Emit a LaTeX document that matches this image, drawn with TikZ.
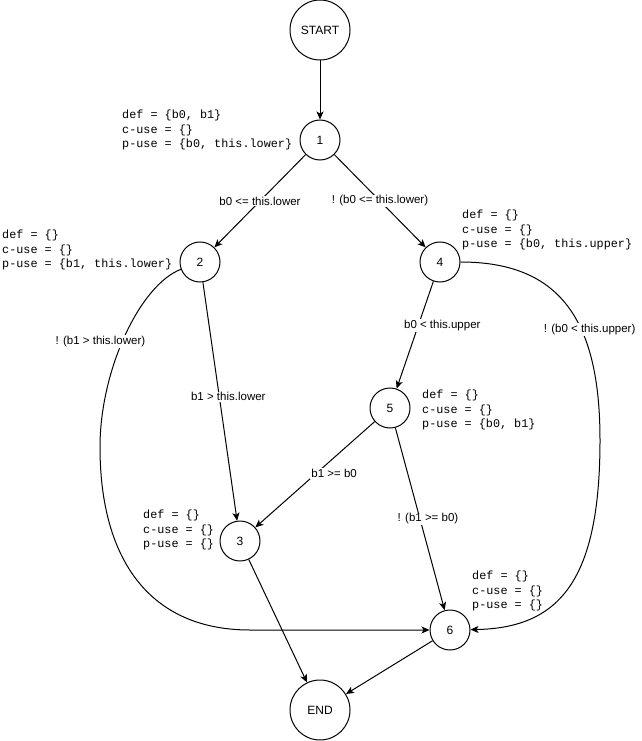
\documentclass[tikz,border=0pt]{standalone}
\usepackage{fontspec}
\setmainfont{Liberation Sans}
\newfontfamily\codefont{Liberation Mono}
\usetikzlibrary{arrows.meta}

\begin{document}
\begin{tikzpicture}[x=1pt,y=-1pt,
  state/.style={draw,circle,line width=1pt,minimum size=40pt,inner sep=0pt,font=\fontsize{12}{14}\selectfont},
  term/.style={state,minimum size=60pt},
  flow/.style={line width=1pt,-{Stealth[length=8pt,width=7pt,inset=2pt]}},
  cond/.style={fill=white,inner sep=1pt,font=\fontsize{11.5}{13}\selectfont},
  anno/.style={anchor=west,align=left,inner sep=0pt,font=\codefont\fontsize{11.8}{14.5}\selectfont}]
\useasboundingbox (0,0) rectangle (641,741);
% states
\node[term] (start) at (320,30) {START};
\node[state] (n1) at (320,140) {1};
\node[state] (n2) at (200,262) {2};
\node[state] (n4) at (440,262) {4};
\node[state] (n5) at (390,408) {5};
\node[state] (n3) at (240,541) {3};
\node[state] (n6) at (450,630) {6};
\node[term] (end) at (320,710) {END};
% def / use sets
\node[anno] (d1) at (122,130) {def = \{b0, b1\}\\c-use = \{\}\\p-use = \{b0, this.lower\}};
\node[anno] (d2) at (2,250) {def = \{\}\\c-use = \{\}\\p-use = \{b1, this.lower\}};
\node[anno] (d4) at (462,230) {def = \{\}\\c-use = \{\}\\p-use = \{b0, this.upper\}};
\node[anno] (d5) at (422,410) {def = \{\}\\c-use = \{\}\\p-use = \{b0, b1\}};
\node[anno] (d3) at (143,530) {def = \{\}\\c-use = \{\}\\p-use = \{\}};
\node[anno] (d6) at (472,591) {def = \{\}\\c-use = \{\}\\p-use = \{\}};
% edges
\draw[flow] (start) -- (n1);
\draw[flow] (n1) -- node[cond] {b0 <= this.lower} (n2);
\draw[flow] (n1) -- node[cond] {! (b0 <= this.lower)} (n4);
\draw[flow] (n2) -- node[cond,pos=0.48,xshift=9pt] {b1 > this.lower} (n3);
\draw[flow] (n2) .. controls (140,285) and (100,370) .. node[cond,pos=0.53,xshift=-22pt] {! (b1 > this.lower)} (100,447)
  .. controls (100,560) and (150,630) .. (250,630) -- (n6);
\draw[flow] (n4) -- node[cond,pos=0.41,xshift=24pt] {b0 < this.upper} (n5);
\draw[flow] (n4) .. controls (560,262) and (600,320) .. node[cond,pos=0.62,xshift=8pt] {! (b0 < this.upper)} (600,440)
  .. controls (600,580) and (560,628) .. (n6);
\draw[flow] (n5) -- node[cond,pos=0.49,xshift=18pt] {b1 >= b0} (n3);
\draw[flow] (n5) -- node[cond,pos=0.5,xshift=8pt] {! (b1 >= b0)} (n6);
\draw[flow] (n3) -- (end);
\draw[flow] (n6) -- (end);
\end{tikzpicture}
\end{document}
